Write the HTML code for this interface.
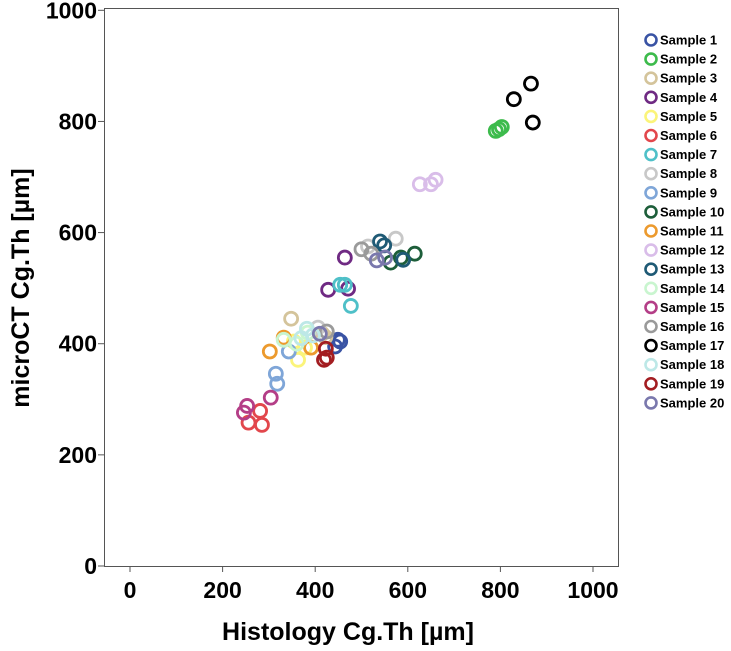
<!DOCTYPE html>
<html><head><meta charset="utf-8"><style>
body{margin:0;background:#fff;width:731px;height:646px;overflow:hidden;font-family:"Liberation Sans",sans-serif}
</style></head><body>
<svg id="chart" width="731" height="646" xmlns="http://www.w3.org/2000/svg">
<rect x="104.5" y="8.5" width="514" height="558" fill="#fff" stroke="#555" stroke-width="1"/>
<g id="axes"></g><g id="points"></g><g id="legend"></g>
<text x="348" y="640" text-anchor="middle" font-weight="bold" font-size="25">Histology Cg.Th [µm]</text>
<text transform="translate(29,288) rotate(-90)" text-anchor="middle" font-weight="bold" font-size="25">microCT Cg.Th [µm]</text>
</svg>
<script>
const sampleNames=["Sample 1","Sample 2","Sample 3","Sample 4","Sample 5","Sample 6","Sample 7","Sample 8","Sample 9","Sample 10","Sample 11","Sample 12","Sample 13","Sample 14","Sample 15","Sample 16","Sample 17","Sample 18","Sample 19","Sample 20"];
const sampleColors=["#3953a4","#3dbb4c","#d4c49b","#6f2a83","#fbf47a","#e2474c","#4fc0c8","#c8c8c8","#7fa6d8","#1d5e3a","#ec9a2e","#d9bde9","#1f5a75","#c9f5cf","#b43e87","#9a9a9a","#000000","#bde8e7","#a31d21","#7a78ad"];
const histX=[
[454,443,449],[790,797,803],[348,415,422],[464,428,471],[363,378,354],[281,256,285],[454,464,477],[574,514,406],[315,318,343],[615,563,585],[302,332,391],[626,650,660],[540,549,590],[332,384,360],[304,253,246],[521,425,500],[866,829,870],[382,395,370],[423,419,425],[533,551,410]];
const ctY=[
[404,395,407],[783,786,790],[445,418,412],[555,497,499],[371,393,404],[279,258,254],[506,506,468],[589,575,429],[346,328,386],[562,546,555],[386,411,393],[687,687,695],[584,577,551],[407,420,400],[303,288,276],[562,422,570],[868,840,798],[427,415,410],[391,371,375],[550,555,418]];
const xTicks=[0,200,400,600,800,1000];
const yTicks=[0,200,400,600,800,1000];
const NS="http://www.w3.org/2000/svg";
const sx=v=>130+v*0.463, sy=v=>566-v*0.5557;
function mk(t,a,p){const e=document.createElementNS(NS,t);for(const k in a)e.setAttribute(k,a[k]);p.appendChild(e);return e;}
const ax=document.getElementById('axes');
xTicks.forEach(v=>{
 const l=mk('line',{x1:sx(v),x2:sx(v),y1:566,y2:572,stroke:'#555'},ax);
 
 
 const t=mk('text',{x:sx(v),y:598,'text-anchor':'middle','font-weight':'bold','font-size':23},ax);t.textContent=v;
 
 
});
yTicks.forEach(v=>{
 const l=mk('line',{x1:98,x2:104.5,y1:sy(v),y2:sy(v),stroke:'#555'},ax);
 
 
 const t=mk('text',{x:97,y:sy(v)+8,'text-anchor':'end','font-weight':'bold','font-size':23},ax);t.textContent=v;
 
 
});
const pg=document.getElementById('points'), lg=document.getElementById('legend');
sampleNames.forEach((n,i)=>{
 histX[i].forEach((x,j)=>{
  const c=mk('circle',{cx:sx(x),cy:sy(ctY[i][j]),r:6.5,fill:'none',stroke:sampleColors[i],'stroke-width':2.8},pg);
  
  
 });
 const y=40+i*19.1;
 const c=mk('circle',{cx:651,cy:y,r:5.5,fill:'none',stroke:sampleColors[i],'stroke-width':2.6},lg);
 
 
 const t=mk('text',{x:660,y:y+4.5,'font-weight':'bold','font-size':13},lg);t.textContent=n;
 
 
});
</script>
</body></html>
